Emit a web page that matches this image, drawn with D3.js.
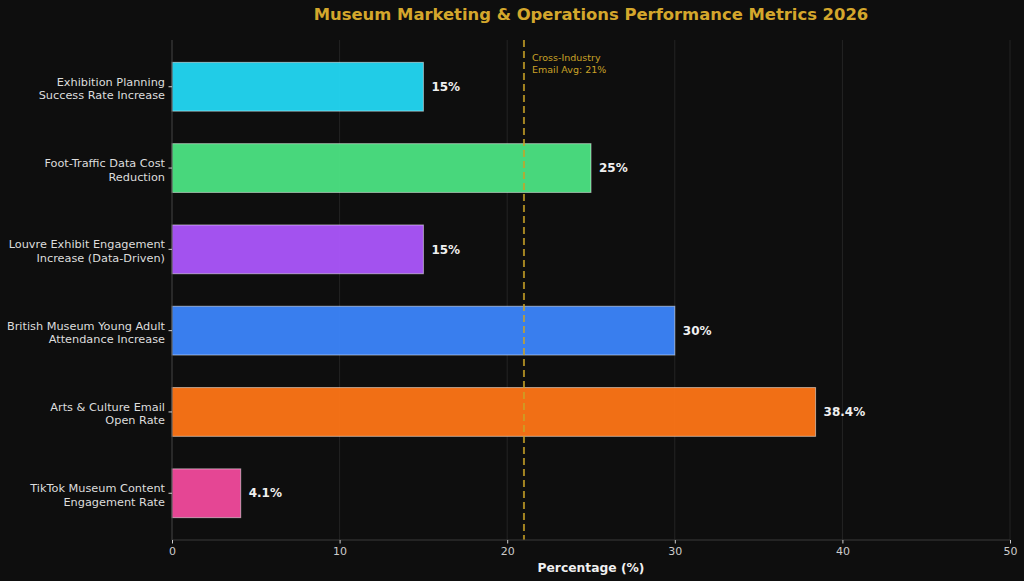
<!DOCTYPE html>
<html>
<head>
<meta charset="utf-8">
<script src="https://cdn.jsdelivr.net/npm/d3@7"></script>
<style>
  body { margin: 0; background: #0e0e0e; }
  svg { display: block; font-family: "DejaVu Sans", sans-serif; }
</style>
</head>
<body>
<svg width="1024" height="581"></svg>
<script>
// Data, top to bottom
const categories = [
  ["Exhibition Planning", "Success Rate Increase"],
  ["Foot-Traffic Data Cost", "Reduction"],
  ["Louvre Exhibit Engagement", "Increase (Data-Driven)"],
  ["British Museum Young Adult", "Attendance Increase"],
  ["Arts & Culture Email", "Open Rate"],
  ["TikTok Museum Content", "Engagement Rate"]
]
const values = [15, 25, 15, 30, 38.4, 4.1]
const valueLabels = ["15%", "25%", "15%", "30%", "38.4%", "4.1%"]
const colors = ["#22d3ee", "#4ade80", "#a855f7", "#3b82f6", "#f97316", "#ec4899"]
const xTicks = [0, 10, 20, 30, 40, 50]
const benchmark = 21

const svg = d3.select("svg")
const margin = { left: 172, right: 14, top: 40, bottom: 41 }
const W = 1024, H = 581

svg.append("rect").attr("width", W).attr("height", H).attr("fill", "#0e0e0e")

const x = d3.scaleLinear()
  .domain([0, 50])
  .range([margin.left, W - margin.right])

const y = d3.scaleBand()
  .domain(d3.range(values.length))
  .range([margin.top, H - margin.bottom])
  .paddingInner(0.4)
  .paddingOuter(0.275)

// vertical grid
svg.append("g")
  .selectAll("line")
  .data(xTicks)
  .enter()
  .append("line")
  .attr("x1", d => x(d)).attr("x2", d => x(d))
  .attr("y1", margin.top).attr("y2", H - margin.bottom)
  .attr("stroke", "#2a2a2a")
  .attr("stroke-width", 0.8)

// bars
svg.append("g")
  .selectAll("rect")
  .data(values)
  .enter()
  .append("rect")
  .attr("x", x(0))
  .attr("y", (d, i) => y(i))
  .attr("width", d => x(d) - x(0))
  .attr("height", y.bandwidth())
  .attr("fill", (d, i) => colors[i])
  .attr("fill-opacity", 0.97)
  .attr("stroke", "rgba(255,255,255,0.5)")
  .attr("stroke-width", 1)

// value labels
svg.append("g")
  .selectAll("text")
  .data(values)
  .enter()
  .append("text")
  .attr("x", d => x(d) + 8)
  .attr("y", (d, i) => y(i) + y.bandwidth() / 2)
  .attr("dy", "0.35em")
  .attr("fill", "#f0f0f0")
  .attr("font-size", 12)
  .attr("font-weight", "bold")
  .text((d, i) => valueLabels[i])

// benchmark line
svg.append("line")
  .attr("x1", x(benchmark)).attr("x2", x(benchmark))
  .attr("y1", margin.top).attr("y2", H - margin.bottom)
  .attr("stroke", "#c9a227")
  .attr("stroke-opacity", 0.8)
  .attr("stroke-width", 2)
  .attr("stroke-dasharray", "7,4")

const note = svg.append("text")
  .attr("x", x(benchmark) + 8)
  .attr("y", 61)
  .attr("fill", "#c9a227")
  .attr("font-size", 9.5)
note.append("tspan").attr("x", x(benchmark) + 8).text("Cross-Industry")
note.append("tspan").attr("x", x(benchmark) + 8).attr("dy", 11.5).text("Email Avg: 21%")

// spines
svg.append("line")
  .attr("x1", x(0)).attr("x2", x(0))
  .attr("y1", margin.top).attr("y2", H - margin.bottom)
  .attr("stroke", "#3a3a3a")
svg.append("line")
  .attr("x1", x(0)).attr("x2", x(50))
  .attr("y1", H - margin.bottom).attr("y2", H - margin.bottom)
  .attr("stroke", "#3a3a3a")

// x axis
const xAxis = svg.append("g")
  .attr("transform", "translate(0," + (H - margin.bottom) + ")")
  .call(d3.axisBottom(x).tickValues(xTicks).tickSize(3.5).tickPadding(4).tickFormat(d3.format("d")))
xAxis.select(".domain").remove()
xAxis.selectAll("line").attr("stroke", "#cccccc")
xAxis.selectAll("text").attr("fill", "#cccccc").attr("font-size", 11).attr("font-family", "DejaVu Sans")

// y ticks and category labels
const yG = svg.append("g")
yG.selectAll("line")
  .data(categories)
  .enter()
  .append("line")
  .attr("x1", x(0) - 3.5).attr("x2", x(0))
  .attr("y1", (d, i) => y(i) + y.bandwidth() / 2)
  .attr("y2", (d, i) => y(i) + y.bandwidth() / 2)
  .attr("stroke", "#cccccc")

const catText = yG.selectAll("text")
  .data(categories)
  .enter()
  .append("text")
  .attr("text-anchor", "end")
  .attr("fill", "#dddddd")
  .attr("font-size", 11.3)
  .attr("y", (d, i) => y(i) + y.bandwidth() / 2 - 1)
catText.append("tspan").attr("x", x(0) - 7).text(d => d[0])
catText.append("tspan").attr("x", x(0) - 7).attr("dy", 13.5).text(d => d[1])

// axis title
svg.append("text")
  .attr("x", (x(0) + x(50)) / 2)
  .attr("y", 572)
  .attr("text-anchor", "middle")
  .attr("fill", "#f0f0f0")
  .attr("font-size", 12.3)
  .attr("font-weight", "bold")
  .text("Percentage (%)")

// title
svg.append("text")
  .attr("x", (x(0) + x(50)) / 2)
  .attr("y", 20)
  .attr("text-anchor", "middle")
  .attr("fill", "#d4a72c")
  .attr("font-size", 16.4)
  .attr("font-weight", "bold")
  .text("Museum Marketing & Operations Performance Metrics 2026")
</script>
</body>
</html>
